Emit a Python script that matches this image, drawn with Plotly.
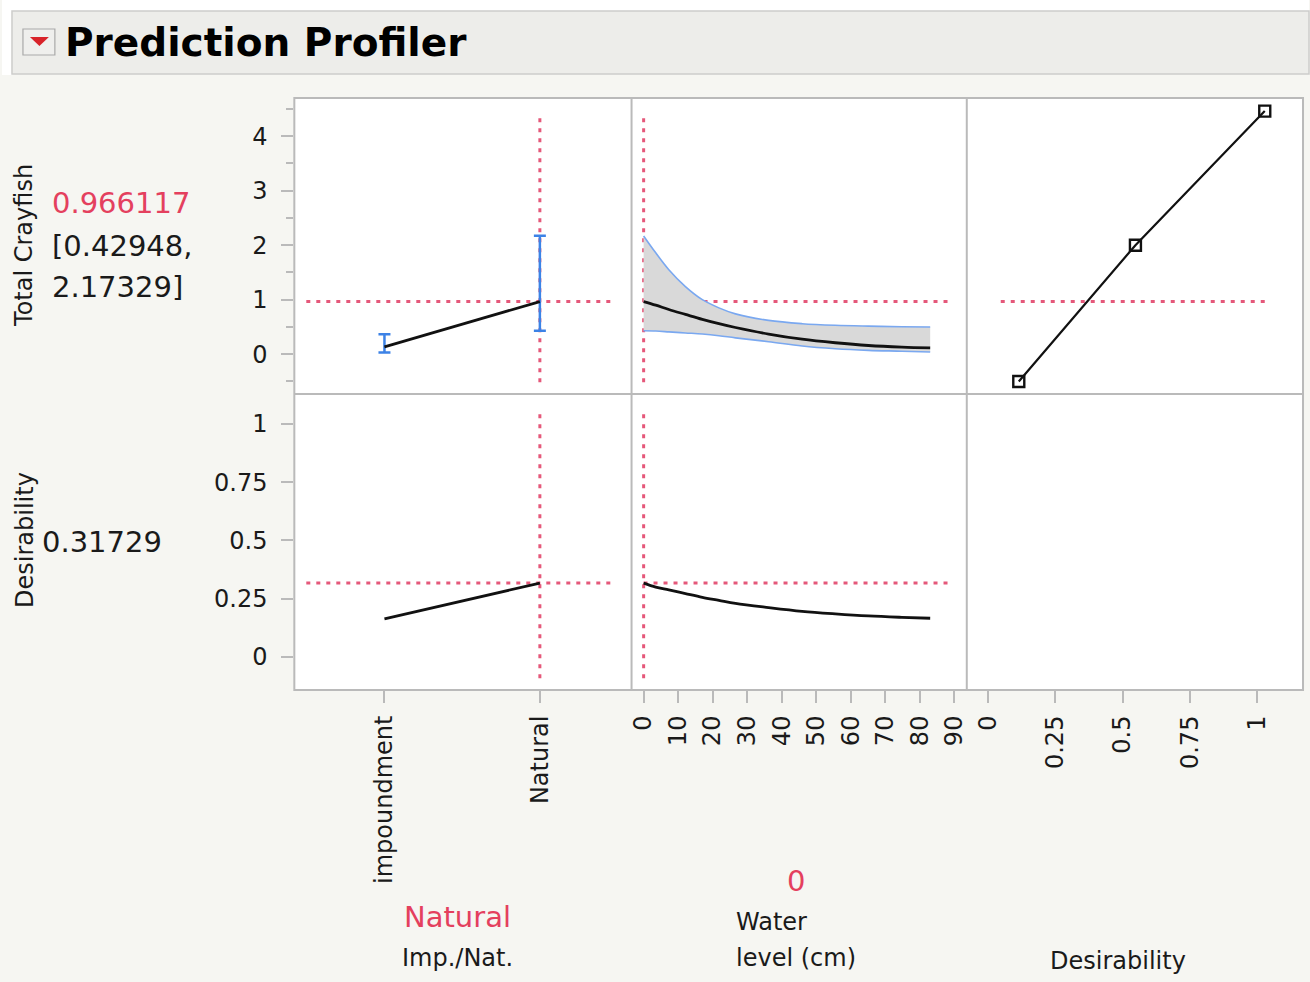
import plotly.graph_objects as go

W, H = 1310, 982

# ---------------- data ----------------
categories = ["impoundment", "Natural"]
crayfish_by_type = [0.134, 0.966117]
crayfish_lo_by_type = [0.03, 0.42948]
crayfish_hi_by_type = [0.367, 2.17329]
desir_by_type = [0.163, 0.31729]

water_level = [0, 3.5, 7.3, 12.1, 17.0, 21.8, 26.6, 36.2, 45.9, 55.5, 65.1, 74.8, 83.0]
crayfish_by_water = [0.966, 0.90, 0.82, 0.73, 0.64, 0.56, 0.49, 0.37, 0.275, 0.21, 0.16, 0.13, 0.116]
crayfish_hi_by_water = [2.17, 1.86, 1.55, 1.24, 1.0, 0.85, 0.74, 0.62, 0.56, 0.53, 0.515, 0.505, 0.50]
crayfish_lo_by_water = [0.43, 0.425, 0.41, 0.39, 0.37, 0.34, 0.30, 0.23, 0.15, 0.10, 0.07, 0.055, 0.04]
desir_by_water = [0.317, 0.30, 0.288, 0.272, 0.256, 0.243, 0.230, 0.212, 0.196, 0.185, 0.176, 0.170, 0.166]

desir_fn_x = [0.115, 0.548, 1.028]
desir_fn_y = [-0.5, 2.0, 4.46]

water_ticks = [0, 10, 20, 30, 40, 50, 60, 70, 80, 90]
desir_ticks = [0, 0.25, 0.5, 0.75, 1]
crayfish_ticks = [0, 1, 2, 3, 4]

current_type = "Natural"
current_water = 0
current_pred = 0.966117
current_ci = [0.42948, 2.17329]
current_desir = 0.31729

# ---------------- styling ----------------
FONT = "DejaVu Sans"
RED = "#e4405e"
DOT_RED = "#e5587a"
BLUE = "#3c82e6"
BAND_BLUE = "#7aa8f0"
AXIS_GREY = "#bababa"
TXT = "#1a1a1a"


def px(x):
    return x / W


def py(y):
    return 1 - y / H


col_dom = [[px(293), px(631)], [px(631), px(967)], [px(967), px(1304)]]
row_dom = [[py(394), py(98)], [py(690), py(394)]]

fig = go.Figure()

# panel 1 top: error bars + line
fig.add_trace(go.Scatter(
    x=[0, 1], y=crayfish_by_type, mode="markers", marker=dict(opacity=0),
    error_y=dict(type="data", symmetric=False,
                 array=[h - v for h, v in zip(crayfish_hi_by_type, crayfish_by_type)],
                 arrayminus=[v - l for v, l in zip(crayfish_by_type, crayfish_lo_by_type)],
                 color=BLUE, thickness=2.5, width=6),
    xaxis="x", yaxis="y", showlegend=False, hoverinfo="skip"))
fig.add_trace(go.Scatter(x=[0, 1], y=crayfish_by_type, mode="lines",
                         line=dict(color="#111111", width=2.8),
                         xaxis="x", yaxis="y", showlegend=False))

# panel 2 top: band + curve
fig.add_trace(go.Scatter(x=water_level, y=crayfish_hi_by_water, mode="lines",
                         line=dict(color=BAND_BLUE, width=1.6, shape="spline", smoothing=1.0),
                         xaxis="x2", yaxis="y2", showlegend=False))
fig.add_trace(go.Scatter(x=water_level, y=crayfish_lo_by_water, mode="lines",
                         line=dict(color=BAND_BLUE, width=1.6, shape="spline", smoothing=1.0),
                         fill="tonexty", fillcolor="#d9d9d9",
                         xaxis="x2", yaxis="y2", showlegend=False))
fig.add_trace(go.Scatter(x=water_level, y=crayfish_by_water, mode="lines",
                         line=dict(color="#111111", width=2.8, shape="spline", smoothing=1.0),
                         xaxis="x2", yaxis="y2", showlegend=False))

# panel 3 top: desirability function
fig.add_trace(go.Scatter(x=desir_fn_x, y=desir_fn_y, mode="lines+markers",
                         line=dict(color="#111111", width=2.2),
                         marker=dict(symbol="square-open", size=11, color="#111111",
                                     line=dict(width=2.4)),
                         xaxis="x3", yaxis="y3", showlegend=False))

# bottom row
fig.add_trace(go.Scatter(x=[0, 1], y=desir_by_type, mode="lines",
                         line=dict(color="#111111", width=2.8),
                         xaxis="x4", yaxis="y4", showlegend=False))
fig.add_trace(go.Scatter(x=water_level, y=desir_by_water, mode="lines",
                         line=dict(color="#111111", width=2.8, shape="spline", smoothing=1.0),
                         xaxis="x5", yaxis="y5", showlegend=False))
# empty bottom-right panel (keeps its axis drawn)
fig.add_trace(go.Scatter(x=[None], y=[None], mode="markers",
                         xaxis="x6", yaxis="y6", showlegend=False, hoverinfo="skip"))

axis_common = dict(showline=False, showgrid=False, zeroline=False, fixedrange=True)
tickfont = dict(family=FONT, size=24, color=TXT)
tickstyle = dict(ticks="outside", ticklen=12, tickcolor=AXIS_GREY, tickwidth=1.5, tickfont=tickfont)

x1r = [-0.58, 1.59]
x2r = [-3.5, 93.6]
x3r = [-0.078, 1.17]
y1r = [-0.73, 4.70]
y2r = [-0.142, 1.129]

layout = dict(
    width=W, height=H, autosize=False,
    margin=dict(l=0, r=0, t=0, b=0),
    paper_bgcolor="#f6f6f2", plot_bgcolor="#ffffff",
    showlegend=False,
    xaxis=dict(domain=col_dom[0], anchor="y", range=x1r, showticklabels=False, ticks="", **axis_common),
    xaxis2=dict(domain=col_dom[1], anchor="y2", range=x2r, showticklabels=False, ticks="", **axis_common),
    xaxis3=dict(domain=col_dom[2], anchor="y3", range=x3r, showticklabels=False, ticks="", **axis_common),
    xaxis4=dict(domain=col_dom[0], anchor="y4", range=x1r, tickmode="array",
                tickvals=[0, 1], ticktext=categories, tickangle=-90,
                ticklabelstandoff=3, **tickstyle, **axis_common),
    xaxis5=dict(domain=col_dom[1], anchor="y5", range=x2r, tickmode="array",
                tickvals=water_ticks, ticktext=[str(v) for v in water_ticks], tickangle=-90,
                ticklabelstandoff=3, **tickstyle, **axis_common),
    xaxis6=dict(domain=col_dom[2], anchor="y6", range=x3r, tickmode="array",
                tickvals=desir_ticks, ticktext=["0", "0.25", "0.5", "0.75", "1"], tickangle=-90,
                ticklabelstandoff=3, **tickstyle, **axis_common),
    yaxis=dict(domain=row_dom[0], anchor="x", range=y1r, tickmode="array",
               tickvals=crayfish_ticks, ticktext=[str(v) for v in crayfish_ticks],
               minor=dict(tickmode="array", tickvals=[-0.5, 0.5, 1.5, 2.5, 3.5, 4.5],
                          ticks="outside", ticklen=7, tickcolor=AXIS_GREY, tickwidth=1.5),
               ticklabelstandoff=9, **tickstyle, **axis_common),
    yaxis2=dict(domain=row_dom[0], anchor="x2", range=y1r, showticklabels=False, ticks="", **axis_common),
    yaxis3=dict(domain=row_dom[0], anchor="x3", range=y1r, showticklabels=False, ticks="", **axis_common),
    yaxis4=dict(domain=row_dom[1], anchor="x4", range=y2r, tickmode="array",
                tickvals=desir_ticks, ticktext=["0", "0.25", "0.5", "0.75", "1"],
                ticklabelstandoff=9, **tickstyle, **axis_common),
    yaxis5=dict(domain=row_dom[1], anchor="x5", range=y2r, showticklabels=False, ticks="", **axis_common),
    yaxis6=dict(domain=row_dom[1], anchor="x6", range=y2r, showticklabels=False, ticks="", **axis_common),
)
fig.update_layout(**layout)

shapes = []
# header area
shapes.append(dict(type="rect", xref="paper", yref="paper", x0=0, x1=1, y0=py(11), y1=1,
                   fillcolor="#ffffff", line=dict(width=0), layer="below"))
shapes.append(dict(type="rect", xref="paper", yref="paper", x0=0, x1=px(10), y0=py(75), y1=1,
                   fillcolor="#ffffff", line=dict(width=0), layer="below"))
shapes.append(dict(type="rect", xref="paper", yref="paper", x0=px(10), x1=px(1310), y0=py(74), y1=py(11),
                   fillcolor="#ededea", line=dict(color="#cdcdcb", width=1.5), layer="below"))
shapes.append(dict(type="rect", xref="paper", yref="paper", x0=px(21), x1=px(53), y0=py(55), y1=py(29),
                   fillcolor="#efefed", line=dict(color="#a9a9a9", width=1.2), layer="below"))
shapes.append(dict(type="path", xref="paper", yref="paper",
                   path=f"M {px(28)} {py(37)} L {px(47)} {py(37)} L {px(37.5)} {py(46)} Z",
                   fillcolor="#d8232a", line=dict(width=0)))

DOT = dict(color=DOT_RED, width=3, dash="4px,6px")


def hline(xa, ya, yval, d0, d1):
    shapes.append(dict(type="line", xref=f"{xa} domain", yref=ya, x0=d0, x1=d1,
                       y0=yval, y1=yval, line=DOT, layer="below"))


def vline(xa, ya, xval, d0, d1):
    shapes.append(dict(type="line", xref=xa, yref=f"{ya} domain", x0=xval, x1=xval,
                       y0=d0, y1=d1, line=DOT, layer="below"))


cur_type_idx = categories.index(current_type)
hline("x", "y", current_pred, 0.0355, 0.944)
vline("x", "y", cur_type_idx, 0.04, 0.943)
hline("x2", "y2", current_pred, 0.0357, 0.949)
vline("x2", "y2", current_water, 0.04, 0.943)
hline("x3", "y3", current_pred, 0.101, 0.89)
hline("x4", "y4", current_desir, 0.0355, 0.944)
vline("x4", "y4", cur_type_idx, 0.04, 0.946)
hline("x5", "y5", current_desir, 0.0357, 0.949)
vline("x5", "y5", current_water, 0.04, 0.946)

# panel frame (outer box + dividers)
BORDER = dict(color=AXIS_GREY, width=2)
shapes.append(dict(type="rect", xref="paper", yref="paper", x0=px(293), x1=px(1304),
                   y0=py(690), y1=py(98), line=BORDER, layer="above"))
for xd in (631, 967):
    shapes.append(dict(type="line", xref="paper", yref="paper", x0=px(xd), x1=px(xd),
                       y0=py(690), y1=py(98), line=BORDER, layer="above"))
shapes.append(dict(type="line", xref="paper", yref="paper", x0=px(293), x1=px(1304),
                   y0=py(394), y1=py(394), line=BORDER, layer="above"))
fig.update_layout(shapes=shapes)


def txt(text, x, y, size, color=TXT, xanchor="left", angle=0, bold=False):
    return dict(text=text, x=px(x), y=py(y), xref="paper", yref="paper",
                xanchor=xanchor, yanchor="middle", showarrow=False, textangle=angle,
                font=dict(family=FONT, size=size, color=color,
                          weight="bold" if bold else "normal"))


annotations = [
    txt("Prediction Profiler", 61, 42, 39, color="#000000", bold=True),
    txt("Total Crayfish", 22, 245, 24, xanchor="center", angle=-90),
    txt(f"{current_pred:g}", 48, 203, 29, color=RED),
    txt(f"[{current_ci[0]:g},", 48, 246, 29),
    txt(f"{current_ci[1]:g}]", 48, 287, 29),
    txt("Desirability", 23, 540, 24, xanchor="center", angle=-90),
    txt(f"{current_desir:g}", 38, 542, 29),
    txt(current_type, 457, 917, 29, color=RED, xanchor="center"),
    txt("Imp./Nat.", 457, 958, 24, xanchor="center"),
    txt(str(current_water), 796, 881, 29, color=RED, xanchor="center"),
    txt("Water", 734, 922, 24),
    txt("level (cm)", 734, 958, 24),
    txt("Desirability", 1119, 961, 24, xanchor="center"),
]
fig.update_layout(annotations=annotations)

fig.write_html("out.html")
